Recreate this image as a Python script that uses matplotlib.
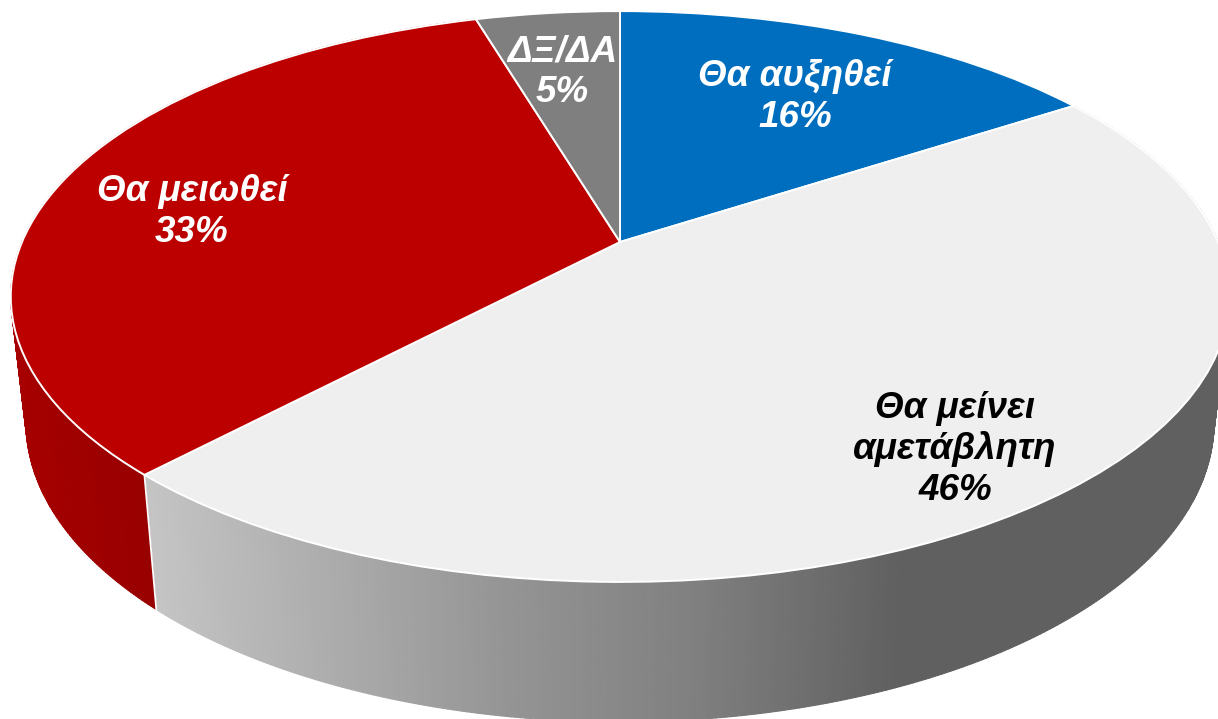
import numpy as np
import matplotlib
matplotlib.use("Agg")
import matplotlib.pyplot as plt
from matplotlib.collections import PolyCollection
from matplotlib.transforms import Transform
from matplotlib.path import Path

labels = ["Θα αυξηθεί", "Θα μείνει\nαμετάβλητη", "Θα μειωθεί", "ΔΞ/ΔΑ"]
values = [15.8, 46.2, 33.4, 4.6]
colors = ["#006EBE", "#EFEFEF", "#BC0000", "#7F7F7F"]
text_colors = ["white", "black", "white", "white"]
label_pos = [(795, 97), (955, 449), (192, 212), (562, 72)]

CX, CY, BX, AY, K = 620.0, 242.0, 598.0, 275.0, 0.191
SX, SY, DROP = 0.975, 1.05, 123.0


def top_xy(x, y):
    d = 1 + K * y
    return CX + BX * x / d, CY - AY * y / d


def low_xy(x, y):
    sx, sy = top_xy(x, y)
    return CX + SX * (sx - CX), CY + DROP + SY * (sy - CY)


class Persp(Transform):
    input_dims = output_dims = 2
    is_separable = False
    has_inverse = False

    def transform_non_affine(self, v):
        v = np.asarray(v, float)
        return np.column_stack(top_xy(v[:, 0], v[:, 1]))

    def transform_path_non_affine(self, path):
        return Path(self.transform_non_affine(path.vertices), path.codes)


fig = plt.figure(figsize=(12.18, 7.19), dpi=100, facecolor="white")
ax = fig.add_axes([0, 0, 1, 1])

wedges, _ = ax.pie(values, colors=colors, startangle=90, counterclock=False,
                   wedgeprops=dict(edgecolor="white", linewidth=1.4, zorder=5))
persp = Persp()
for w in wedges:
    w.set_transform(persp + ax.transData)

ax.set_aspect("auto")
ax.set_xlim(0, 1218)
ax.set_ylim(719, 0)
ax.axis("off")

# side wall, drawn as thin strips under the top face
edges = np.cumsum([0] + values) / sum(values)


def strips(f0, f1, colorfn):
    n = max(int((f1 - f0) * 900), 2)
    fr = np.linspace(f0, f1, n + 1)
    th = np.pi / 2 - 2 * np.pi * fr
    tx, ty = top_xy(np.cos(th), np.sin(th))
    lx, ly = low_xy(np.cos(th), np.sin(th))
    polys, cols = [], []
    for i in range(n):
        polys.append([(tx[i], ty[i]), (tx[i + 1], ty[i + 1]), (lx[i + 1], ly[i + 1]), (lx[i], ly[i])])
        cols.append(colorfn((tx[i] + tx[i + 1]) / 2))
    pc = PolyCollection(polys, facecolors=cols, edgecolors=cols, linewidths=0.8, zorder=2)
    ax.add_collection(pc)
    return tx, ty, lx, ly


def gray(x):
    v = np.interp(x, [150, 500, 700, 900, 1218], [0xC4, 0x95, 0x7F, 0x60, 0x60]) / 255
    return (v, v, v)


def red(x):
    v = np.interp(x, [10, 150], [0xA6, 0x98]) / 255
    return (v, 0, 0)


txg, tyg, lxg, lyg = strips(edges[1], edges[2], gray)
strips(edges[2], edges[3], red)
ax.plot([txg[-1], lxg[-1]], [tyg[-1], lyg[-1]], color="white", lw=1.3, zorder=3)

for lab, val, col, (x, y) in zip(labels, values, text_colors, label_pos):
    ax.text(x, y, f"{lab}\n{val:.0f}%", color=col, ha="center", va="center",
            family="Liberation Sans", weight="bold", style="italic",
            fontsize=26.5, linespacing=1.2, zorder=10)

fig.savefig("out.png", dpi=100)
